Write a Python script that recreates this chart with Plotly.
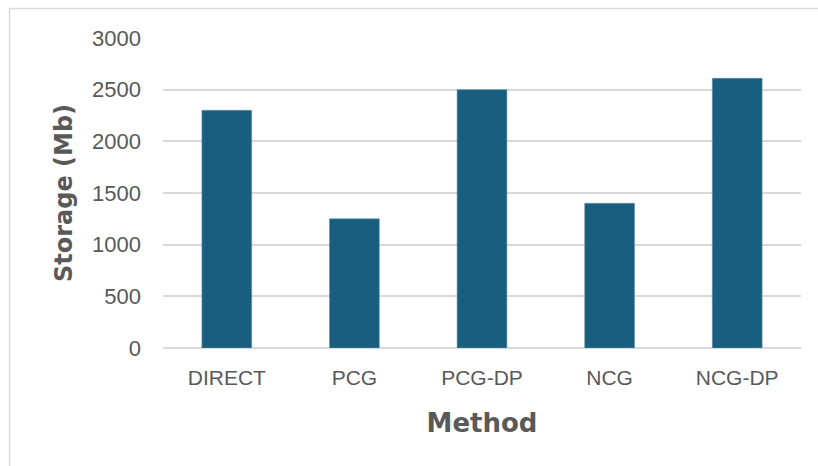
import plotly.graph_objects as go

# Storage footprint per method
methods = ["DIRECT", "PCG", "PCG-DP", "NCG", "NCG-DP"]
storage_mb = [2300, 1250, 2500, 1400, 2610]
y_ticks = [0, 500, 1000, 1500, 2000, 2500, 3000]

bar_color = "#175e7f"
text_gray = "#595959"
grid_gray = "#d9d9d9"

fig = go.Figure(
    go.Bar(
        x=methods,
        y=storage_mb,
        marker=dict(color=bar_color, line=dict(color="#5f8fa6", width=0.6)),
        width=0.39,
    )
)

fig.update_layout(
    width=818,
    height=466,
    margin=dict(l=163, r=17, t=38, b=118),
    paper_bgcolor="white",
    plot_bgcolor="white",
    showlegend=False,
    font=dict(family="Liberation Sans, Arial, sans-serif", color=text_gray),
    shapes=[
        # outer chart frame (runs past the right and bottom edges)
        dict(
            type="rect",
            xref="paper",
            yref="paper",
            x0=-0.2406,
            x1=1.2,
            y0=-0.6,
            y1=1.0952,
            line=dict(color="#d9d9d9", width=1.5),
            fillcolor="rgba(0,0,0,0)",
            layer="below",
        )
    ],
)

fig.update_xaxes(
    title=dict(
        text="<b>Method</b>",
        font=dict(family="DejaVu Sans, Verdana, sans-serif", size=26, color=text_gray),
        standoff=25,
    ),
    tickfont=dict(size=21, color=text_gray),
    showgrid=False,
    showline=False,
    ticks="",
    ticklabelstandoff=15,
)

fig.update_yaxes(
    title=dict(
        text="<b>Storage (Mb)</b>",
        font=dict(family="DejaVu Sans, Verdana, sans-serif", size=24, color=text_gray),
        standoff=12,
    ),
    range=[0, 3000],
    tickvals=y_ticks,
    tickfont=dict(size=22, color=text_gray),
    showgrid=True,
    gridcolor=grid_gray,
    gridwidth=1.5,
    zeroline=True,
    zerolinecolor=grid_gray,
    zerolinewidth=1.5,
    showline=False,
    ticks="",
    ticklabelstandoff=21,
)

fig.write_html("out.html")
